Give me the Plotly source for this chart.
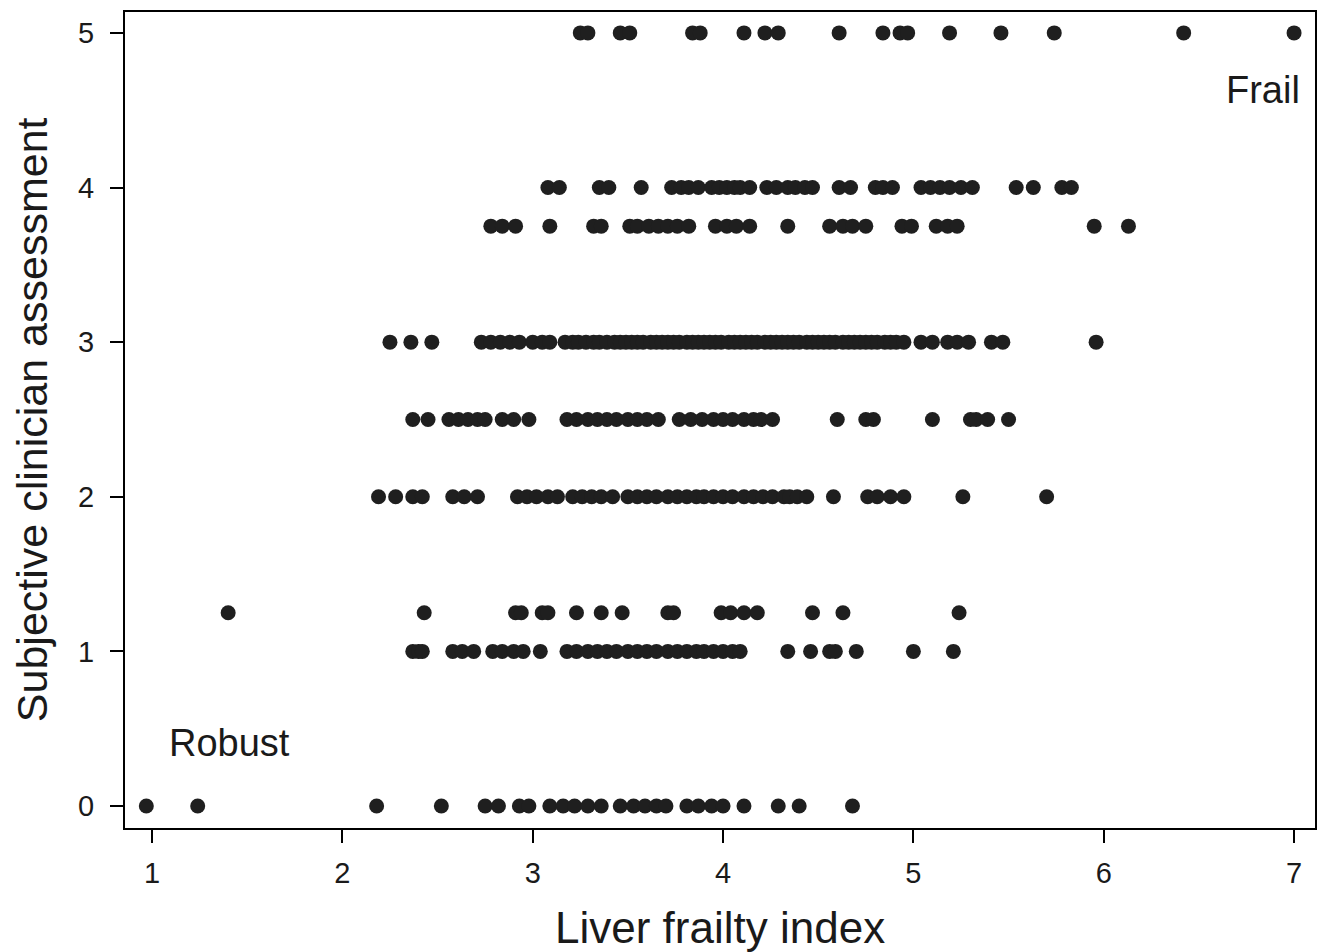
import plotly.graph_objects as go

# Liver frailty index values per subjective clinician assessment level
lfi_5 = [3.25, 3.29, 3.46, 3.51, 3.84, 3.88, 4.11, 4.22, 4.29, 4.61, 4.84, 4.93, 4.97, 5.19, 5.46, 5.74, 6.42, 7.00]
lfi_4 = [3.08, 3.14, 3.35, 3.40, 3.57, 3.73, 3.78, 3.82, 3.87, 3.94, 3.98, 4.02, 4.06, 4.09, 4.14, 4.23, 4.28, 4.34,
         4.38, 4.43, 4.47, 4.61, 4.67, 4.80, 4.84, 4.89, 5.04, 5.09, 5.14, 5.19, 5.25, 5.31, 5.54, 5.63, 5.78, 5.83]
lfi_375 = [2.78, 2.84, 2.91, 3.09, 3.32, 3.36, 3.51, 3.55, 3.61, 3.66, 3.71, 3.76, 3.82, 3.96, 4.02, 4.07, 4.14, 4.34,
           4.56, 4.63, 4.68, 4.75, 4.94, 4.99, 5.12, 5.18, 5.23, 5.95, 6.13]
lfi_3 = [2.25, 2.36, 2.47, 2.73, 2.78, 2.83, 2.88, 2.93, 3.00, 3.05, 3.09,
         3.17, 3.21, 3.24, 3.28, 3.32, 3.35, 3.39, 3.43, 3.46, 3.49, 3.52, 3.55, 3.58, 3.62, 3.65, 3.68, 3.71, 3.74,
         3.77, 3.81, 3.84, 3.87, 3.90, 3.93, 3.96, 3.99, 4.03, 4.06, 4.09, 4.12, 4.15, 4.18, 4.22, 4.25, 4.28, 4.31,
         4.34, 4.37, 4.40, 4.44, 4.47, 4.50, 4.53, 4.56, 4.59, 4.63, 4.66, 4.69, 4.72, 4.75, 4.78, 4.81, 4.85, 4.88,
         4.91, 4.95, 5.04, 5.10, 5.18, 5.23, 5.29, 5.41, 5.47, 5.96]
lfi_25 = [2.37, 2.45, 2.56, 2.61, 2.66, 2.71, 2.75, 2.84, 2.90, 2.98, 3.18, 3.23, 3.29, 3.34, 3.39, 3.44, 3.50, 3.55,
          3.60, 3.66, 3.77, 3.83, 3.89, 3.95, 4.00, 4.05, 4.11, 4.16, 4.20, 4.26, 4.60, 4.75, 4.79, 5.10, 5.30, 5.33,
          5.39, 5.50]
lfi_2 = [2.19, 2.28, 2.37, 2.42, 2.58, 2.64, 2.71, 2.92, 2.97, 3.02, 3.08, 3.13, 3.21, 3.26, 3.31, 3.36, 3.42, 3.50,
         3.55, 3.60, 3.65, 3.71, 3.76, 3.81, 3.86, 3.90, 3.95, 4.00, 4.05, 4.11, 4.16, 4.21, 4.26, 4.32, 4.35, 4.39,
         4.44, 4.58, 4.76, 4.81, 4.88, 4.95, 5.26, 5.70]
lfi_125 = [1.40, 2.43, 2.91, 2.94, 3.05, 3.08, 3.23, 3.36, 3.47, 3.71, 3.74, 3.99, 4.04, 4.11, 4.18, 4.47, 4.63, 5.24]
lfi_1 = [2.37, 2.40, 2.42, 2.58, 2.63, 2.69, 2.79, 2.84, 2.90, 2.95, 3.04, 3.18, 3.23, 3.29, 3.34, 3.39, 3.44, 3.50,
         3.55, 3.60, 3.65, 3.71, 3.76, 3.81, 3.86, 3.90, 3.95, 4.00, 4.05, 4.09, 4.34, 4.46, 4.56, 4.59, 4.70, 5.00,
         5.21]
lfi_0 = [0.97, 1.24, 2.18, 2.52, 2.75, 2.82, 2.93, 2.98, 3.09, 3.16, 3.22, 3.29, 3.36, 3.46, 3.53, 3.59, 3.65, 3.70,
         3.81, 3.87, 3.94, 4.00, 4.11, 4.29, 4.40, 4.68]

levels = [5, 4, 3.75, 3, 2.5, 2, 1.25, 1, 0]
groups = [lfi_5, lfi_4, lfi_375, lfi_3, lfi_25, lfi_2, lfi_125, lfi_1, lfi_0]

xs, ys = [], []
for lvl, grp in zip(levels, groups):
    xs.extend(grp)
    ys.extend([lvl] * len(grp))

x_ticks = [1, 2, 3, 4, 5, 6, 7]
y_ticks = [0, 1, 2, 3, 4, 5]

fig = go.Figure()
fig.add_trace(go.Scatter(
    x=xs, y=ys, mode="markers",
    marker=dict(size=15, color="#1f1f1f", line=dict(width=0)),
    showlegend=False,
))

font = "Liberation Sans, Arial, Helvetica, sans-serif"
axis_common = dict(
    showgrid=False, zeroline=False, showline=True, linecolor="black", linewidth=2,
    mirror=True, ticks="outside", ticklen=13, tickwidth=2, tickcolor="black",
    tickfont=dict(family=font, size=29, color="#1a1a1a"),
)
fig.update_xaxes(range=[0.858, 7.11], tickvals=x_ticks, ticklabelstandoff=5, **axis_common)
fig.update_yaxes(range=[-0.142, 5.135], tickvals=y_ticks, ticklabelstandoff=10, **axis_common)

fig.update_layout(
    width=1327, height=952,
    margin=dict(l=117, r=20, t=2, b=132),
    plot_bgcolor="white", paper_bgcolor="white",
    font=dict(family=font, color="#1a1a1a"),
    annotations=[
        dict(text="Liver frailty index", x=0.5, y=-0.122, xref="paper", yref="paper",
             showarrow=False, font=dict(size=44), xanchor="center", yanchor="middle"),
        dict(text="Subjective clinician assessment", x=-0.078, y=0.5, xref="paper", yref="paper",
             showarrow=False, font=dict(size=43), textangle=-90, xanchor="center", yanchor="middle"),
        dict(text="Frail", x=7.04, y=4.63, xref="x", yref="y", showarrow=False,
             font=dict(size=38), xanchor="right", yanchor="middle"),
        dict(text="Robust", x=1.08, y=0.41, xref="x", yref="y", showarrow=False,
             font=dict(size=38), xanchor="left", yanchor="middle"),
    ],
)

fig.write_html("out.html")
